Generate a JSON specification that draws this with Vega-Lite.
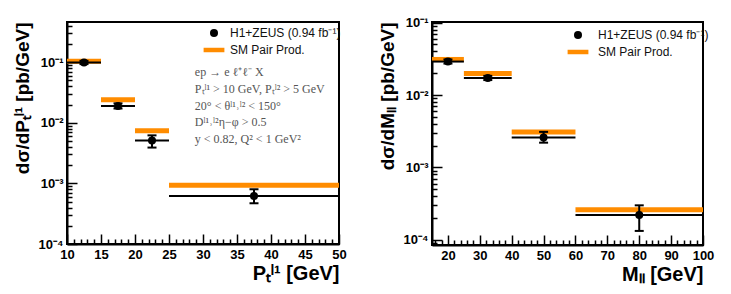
{
  "$schema": "https://vega.github.io/schema/vega-lite/v6.json",
  "padding": {"left": 12, "top": 15, "right": 5, "bottom": 5},
  "spacing": 93,
  "bounds": "flush",
  "background": "white",
  "datasets": {
    "ptData": [
      {"lo": 10, "hi": 15, "x": 12.5, "y": 0.099, "ylo": 0.093, "yhi": 0.105, "series": "H1+ZEUS (0.94 fb⁻¹)"},
      {"lo": 15, "hi": 20, "x": 17.5, "y": 0.019, "ylo": 0.0172, "yhi": 0.0209, "series": "H1+ZEUS (0.94 fb⁻¹)"},
      {"lo": 20, "hi": 25, "x": 22.5, "y": 0.0051, "ylo": 0.0039, "yhi": 0.0062, "series": "H1+ZEUS (0.94 fb⁻¹)"},
      {"lo": 25, "hi": 50, "x": 37.5, "y": 0.00062, "ylo": 0.00047, "yhi": 0.0008, "series": "H1+ZEUS (0.94 fb⁻¹)"}
    ],
    "ptSM": [
      {"lo": 10, "hi": 15, "sm": 0.104, "series": "SM Pair Prod."},
      {"lo": 15, "hi": 20, "sm": 0.024, "series": "SM Pair Prod."},
      {"lo": 20, "hi": 25, "sm": 0.0074, "series": "SM Pair Prod."},
      {"lo": 25, "hi": 50, "sm": 0.00093, "series": "SM Pair Prod."}
    ],
    "mData": [
      {"lo": 15, "hi": 25, "x": 20, "y": 0.029, "ylo": 0.0272, "yhi": 0.031, "series": "H1+ZEUS (0.94 fb⁻¹)"},
      {"lo": 25, "hi": 40, "x": 32.5, "y": 0.0172, "ylo": 0.0161, "yhi": 0.0184, "series": "H1+ZEUS (0.94 fb⁻¹)"},
      {"lo": 40, "hi": 60, "x": 50, "y": 0.0026, "ylo": 0.0022, "yhi": 0.0031, "series": "H1+ZEUS (0.94 fb⁻¹)"},
      {"lo": 60, "hi": 100, "x": 80, "y": 0.00022, "ylo": 0.000133, "yhi": 0.0003, "series": "H1+ZEUS (0.94 fb⁻¹)"}
    ],
    "mSM": [
      {"lo": 15, "hi": 25, "sm": 0.031, "series": "SM Pair Prod."},
      {"lo": 25, "hi": 40, "sm": 0.0198, "series": "SM Pair Prod."},
      {"lo": 40, "hi": 60, "sm": 0.0031, "series": "SM Pair Prod."},
      {"lo": 60, "hi": 100, "sm": 0.00026, "series": "SM Pair Prod."}
    ],
    "notes": [
      {"lines": ["ep → e ℓ⁺ℓ⁻ X", "Pₜˡ¹ > 10 GeV, Pₜˡ² > 5 GeV", "20° < θˡ¹˒ˡ² < 150°", "Dˡ¹˒ˡ²η−φ > 0.5", "y < 0.82, Q² < 1 GeV²"]}
    ]
  },
  "resolve": {
    "scale": {"color": "independent", "shape": "independent", "x": "independent", "y": "independent"},
    "legend": {"color": "independent", "shape": "independent"}
  },
  "hconcat": [
    {
      "width": 272,
      "height": 222,
      "layer": [
        {
          "data": {"name": "ptSM"},
          "mark": {"type": "rule", "strokeWidth": 5, "color": "#ff8c00"},
          "encoding": {
            "x": {"field": "lo", "type": "quantitative", "scale": {"domain": [10, 50], "nice": false, "zero": false},
              "axis": {"title": "Pₜˡ¹ [GeV]", "titleAnchor": "end", "titleAlign": "right", "titleFontSize": 20, "titlePadding": 2, "grid": true, "labelOverlap": false, "values": [10,11,12,13,14,15,16,17,18,19,20,21,22,23,24,25,26,27,28,29,30,31,32,33,34,35,36,37,38,39,40,41,42,43,44,45,46,47,48,49,50], "labelExpr": "datum.value % 5 == 0 ? datum.label : ''", "gridDash": {"condition": {"test": "datum.value % 5 == 0", "value": [0, 212, 10, 2000]}, "value": [0, 217, 5, 2000]}}},
            "x2": {"field": "hi"},
            "y": {"field": "sm", "type": "quantitative", "scale": {"type": "log", "domain": [0.0001, 0.46], "nice": false},
              "axis": {"title": "dσ/dPₜˡ¹ [pb/GeV]", "titleAnchor": "end", "titleFontSize": 19, "titlePadding": 6, "grid": true, "labelOverlap": false, "values": [0.0001,0.0002,0.0003,0.0004,0.0005,0.0006,0.0007,0.0008,0.0009,0.001,0.002,0.003,0.004,0.005,0.006,0.007,0.008,0.009,0.01,0.02,0.03,0.04,0.05,0.06,0.07,0.08,0.09,0.1,0.2,0.3,0.4], "labelExpr": "abs(datum.value-0.1)<1e-9 ? '10⁻¹' : abs(datum.value-0.01)<1e-10 ? '10⁻²' : abs(datum.value-0.001)<1e-11 ? '10⁻³' : abs(datum.value-0.0001)<1e-12 ? '10⁻⁴' : ''", "gridDash": {"condition": {"test": "abs(log(datum.value)/LN10 - round(log(datum.value)/LN10)) < 0.001", "value": [10, 2000]}, "value": [5, 2000]}}}
          }
        },
        {
          "data": {"name": "ptData"},
          "mark": {"type": "rule", "strokeWidth": 2, "color": "black"},
          "encoding": {
            "x": {"field": "lo", "type": "quantitative",
              "axis": {"title": "Pₜˡ¹ [GeV]", "titleAnchor": "end", "titleAlign": "right", "titleFontSize": 20, "titlePadding": 2, "grid": true, "labelOverlap": false, "values": [10,11,12,13,14,15,16,17,18,19,20,21,22,23,24,25,26,27,28,29,30,31,32,33,34,35,36,37,38,39,40,41,42,43,44,45,46,47,48,49,50], "labelExpr": "datum.value % 5 == 0 ? datum.label : ''", "gridDash": {"condition": {"test": "datum.value % 5 == 0", "value": [0, 212, 10, 2000]}, "value": [0, 217, 5, 2000]}}},
            "x2": {"field": "hi"},
            "y": {"field": "y", "type": "quantitative",
              "axis": {"title": "dσ/dPₜˡ¹ [pb/GeV]", "titleAnchor": "end", "titleFontSize": 19, "titlePadding": 6, "grid": true, "labelOverlap": false, "values": [0.0001,0.0002,0.0003,0.0004,0.0005,0.0006,0.0007,0.0008,0.0009,0.001,0.002,0.003,0.004,0.005,0.006,0.007,0.008,0.009,0.01,0.02,0.03,0.04,0.05,0.06,0.07,0.08,0.09,0.1,0.2,0.3,0.4], "labelExpr": "abs(datum.value-0.1)<1e-9 ? '10⁻¹' : abs(datum.value-0.01)<1e-10 ? '10⁻²' : abs(datum.value-0.001)<1e-11 ? '10⁻³' : abs(datum.value-0.0001)<1e-12 ? '10⁻⁴' : ''", "gridDash": {"condition": {"test": "abs(log(datum.value)/LN10 - round(log(datum.value)/LN10)) < 0.001", "value": [10, 2000]}, "value": [5, 2000]}}}
          }
        },
        {
          "data": {"name": "ptData"},
          "mark": {"type": "rule", "strokeWidth": 2, "color": "black"},
          "encoding": {
            "x": {"field": "x", "type": "quantitative",
              "axis": {"title": "Pₜˡ¹ [GeV]", "titleAnchor": "end", "titleAlign": "right", "titleFontSize": 20, "titlePadding": 2, "grid": true, "labelOverlap": false, "values": [10,11,12,13,14,15,16,17,18,19,20,21,22,23,24,25,26,27,28,29,30,31,32,33,34,35,36,37,38,39,40,41,42,43,44,45,46,47,48,49,50], "labelExpr": "datum.value % 5 == 0 ? datum.label : ''", "gridDash": {"condition": {"test": "datum.value % 5 == 0", "value": [0, 212, 10, 2000]}, "value": [0, 217, 5, 2000]}}},
            "y": {"field": "ylo", "type": "quantitative",
              "axis": {"title": "dσ/dPₜˡ¹ [pb/GeV]", "titleAnchor": "end", "titleFontSize": 19, "titlePadding": 6, "grid": true, "labelOverlap": false, "values": [0.0001,0.0002,0.0003,0.0004,0.0005,0.0006,0.0007,0.0008,0.0009,0.001,0.002,0.003,0.004,0.005,0.006,0.007,0.008,0.009,0.01,0.02,0.03,0.04,0.05,0.06,0.07,0.08,0.09,0.1,0.2,0.3,0.4], "labelExpr": "abs(datum.value-0.1)<1e-9 ? '10⁻¹' : abs(datum.value-0.01)<1e-10 ? '10⁻²' : abs(datum.value-0.001)<1e-11 ? '10⁻³' : abs(datum.value-0.0001)<1e-12 ? '10⁻⁴' : ''", "gridDash": {"condition": {"test": "abs(log(datum.value)/LN10 - round(log(datum.value)/LN10)) < 0.001", "value": [10, 2000]}, "value": [5, 2000]}}},
            "y2": {"field": "yhi"}
          }
        },
        {
          "data": {"name": "ptData"},
          "mark": {"type": "tick", "orient": "horizontal", "size": 9, "thickness": 2, "color": "black", "opacity": 1},
          "encoding": {
            "x": {"field": "x", "type": "quantitative",
              "axis": {"title": "Pₜˡ¹ [GeV]", "titleAnchor": "end", "titleAlign": "right", "titleFontSize": 20, "titlePadding": 2, "grid": true, "labelOverlap": false, "values": [10,11,12,13,14,15,16,17,18,19,20,21,22,23,24,25,26,27,28,29,30,31,32,33,34,35,36,37,38,39,40,41,42,43,44,45,46,47,48,49,50], "labelExpr": "datum.value % 5 == 0 ? datum.label : ''", "gridDash": {"condition": {"test": "datum.value % 5 == 0", "value": [0, 212, 10, 2000]}, "value": [0, 217, 5, 2000]}}},
            "y": {"field": "ylo", "type": "quantitative",
              "axis": {"title": "dσ/dPₜˡ¹ [pb/GeV]", "titleAnchor": "end", "titleFontSize": 19, "titlePadding": 6, "grid": true, "labelOverlap": false, "values": [0.0001,0.0002,0.0003,0.0004,0.0005,0.0006,0.0007,0.0008,0.0009,0.001,0.002,0.003,0.004,0.005,0.006,0.007,0.008,0.009,0.01,0.02,0.03,0.04,0.05,0.06,0.07,0.08,0.09,0.1,0.2,0.3,0.4], "labelExpr": "abs(datum.value-0.1)<1e-9 ? '10⁻¹' : abs(datum.value-0.01)<1e-10 ? '10⁻²' : abs(datum.value-0.001)<1e-11 ? '10⁻³' : abs(datum.value-0.0001)<1e-12 ? '10⁻⁴' : ''", "gridDash": {"condition": {"test": "abs(log(datum.value)/LN10 - round(log(datum.value)/LN10)) < 0.001", "value": [10, 2000]}, "value": [5, 2000]}}}
          }
        },
        {
          "data": {"name": "ptData"},
          "mark": {"type": "tick", "orient": "horizontal", "size": 9, "thickness": 2, "color": "black", "opacity": 1},
          "encoding": {
            "x": {"field": "x", "type": "quantitative",
              "axis": {"title": "Pₜˡ¹ [GeV]", "titleAnchor": "end", "titleAlign": "right", "titleFontSize": 20, "titlePadding": 2, "grid": true, "labelOverlap": false, "values": [10,11,12,13,14,15,16,17,18,19,20,21,22,23,24,25,26,27,28,29,30,31,32,33,34,35,36,37,38,39,40,41,42,43,44,45,46,47,48,49,50], "labelExpr": "datum.value % 5 == 0 ? datum.label : ''", "gridDash": {"condition": {"test": "datum.value % 5 == 0", "value": [0, 212, 10, 2000]}, "value": [0, 217, 5, 2000]}}},
            "y": {"field": "yhi", "type": "quantitative",
              "axis": {"title": "dσ/dPₜˡ¹ [pb/GeV]", "titleAnchor": "end", "titleFontSize": 19, "titlePadding": 6, "grid": true, "labelOverlap": false, "values": [0.0001,0.0002,0.0003,0.0004,0.0005,0.0006,0.0007,0.0008,0.0009,0.001,0.002,0.003,0.004,0.005,0.006,0.007,0.008,0.009,0.01,0.02,0.03,0.04,0.05,0.06,0.07,0.08,0.09,0.1,0.2,0.3,0.4], "labelExpr": "abs(datum.value-0.1)<1e-9 ? '10⁻¹' : abs(datum.value-0.01)<1e-10 ? '10⁻²' : abs(datum.value-0.001)<1e-11 ? '10⁻³' : abs(datum.value-0.0001)<1e-12 ? '10⁻⁴' : ''", "gridDash": {"condition": {"test": "abs(log(datum.value)/LN10 - round(log(datum.value)/LN10)) < 0.001", "value": [10, 2000]}, "value": [5, 2000]}}}
          }
        },
        {
          "data": {"name": "ptData"},
          "mark": {"type": "point", "filled": true, "size": 64, "opacity": 1},
          "encoding": {
            "x": {"field": "x", "type": "quantitative",
              "axis": {"title": "Pₜˡ¹ [GeV]", "titleAnchor": "end", "titleAlign": "right", "titleFontSize": 20, "titlePadding": 2, "grid": true, "labelOverlap": false, "values": [10,11,12,13,14,15,16,17,18,19,20,21,22,23,24,25,26,27,28,29,30,31,32,33,34,35,36,37,38,39,40,41,42,43,44,45,46,47,48,49,50], "labelExpr": "datum.value % 5 == 0 ? datum.label : ''", "gridDash": {"condition": {"test": "datum.value % 5 == 0", "value": [0, 212, 10, 2000]}, "value": [0, 217, 5, 2000]}}},
            "y": {"field": "y", "type": "quantitative",
              "axis": {"title": "dσ/dPₜˡ¹ [pb/GeV]", "titleAnchor": "end", "titleFontSize": 19, "titlePadding": 6, "grid": true, "labelOverlap": false, "values": [0.0001,0.0002,0.0003,0.0004,0.0005,0.0006,0.0007,0.0008,0.0009,0.001,0.002,0.003,0.004,0.005,0.006,0.007,0.008,0.009,0.01,0.02,0.03,0.04,0.05,0.06,0.07,0.08,0.09,0.1,0.2,0.3,0.4], "labelExpr": "abs(datum.value-0.1)<1e-9 ? '10⁻¹' : abs(datum.value-0.01)<1e-10 ? '10⁻²' : abs(datum.value-0.001)<1e-11 ? '10⁻³' : abs(datum.value-0.0001)<1e-12 ? '10⁻⁴' : ''", "gridDash": {"condition": {"test": "abs(log(datum.value)/LN10 - round(log(datum.value)/LN10)) < 0.001", "value": [10, 2000]}, "value": [5, 2000]}}},
            "color": {"field": "series", "type": "nominal",
              "scale": {"domain": ["H1+ZEUS (0.94 fb⁻¹)", "SM Pair Prod."], "range": ["black", "#ff8c00"]},
              "legend": {"orient": "none", "legendX": 141, "legendY": 5, "title": null, "labelOffset": 10}},
            "shape": {"field": "series", "type": "nominal",
              "scale": {"domain": ["H1+ZEUS (0.94 fb⁻¹)", "SM Pair Prod."], "range": ["circle", "M-2.6,-0.56L2.6,-0.56L2.6,0.56L-2.6,0.56Z"]},
              "legend": {"orient": "none", "legendX": 141, "legendY": 5, "title": null, "labelOffset": 10}}
          }
        },
        {
          "data": {"name": "notes"},
          "mark": {"type": "text", "align": "left", "baseline": "alphabetic", "font": "Liberation Serif", "fontSize": 12, "color": "#555555", "lineHeight": 16.7},
          "encoding": {
            "x": {"datum": 28.8, "type": "quantitative",
              "axis": {"title": "Pₜˡ¹ [GeV]", "titleAnchor": "end", "titleAlign": "right", "titleFontSize": 20, "titlePadding": 2, "grid": true, "labelOverlap": false, "values": [10,11,12,13,14,15,16,17,18,19,20,21,22,23,24,25,26,27,28,29,30,31,32,33,34,35,36,37,38,39,40,41,42,43,44,45,46,47,48,49,50], "labelExpr": "datum.value % 5 == 0 ? datum.label : ''", "gridDash": {"condition": {"test": "datum.value % 5 == 0", "value": [0, 212, 10, 2000]}, "value": [0, 217, 5, 2000]}}},
            "y": {"datum": 0.0588, "type": "quantitative",
              "axis": {"title": "dσ/dPₜˡ¹ [pb/GeV]", "titleAnchor": "end", "titleFontSize": 19, "titlePadding": 6, "grid": true, "labelOverlap": false, "values": [0.0001,0.0002,0.0003,0.0004,0.0005,0.0006,0.0007,0.0008,0.0009,0.001,0.002,0.003,0.004,0.005,0.006,0.007,0.008,0.009,0.01,0.02,0.03,0.04,0.05,0.06,0.07,0.08,0.09,0.1,0.2,0.3,0.4], "labelExpr": "abs(datum.value-0.1)<1e-9 ? '10⁻¹' : abs(datum.value-0.01)<1e-10 ? '10⁻²' : abs(datum.value-0.001)<1e-11 ? '10⁻³' : abs(datum.value-0.0001)<1e-12 ? '10⁻⁴' : ''", "gridDash": {"condition": {"test": "abs(log(datum.value)/LN10 - round(log(datum.value)/LN10)) < 0.001", "value": [10, 2000]}, "value": [5, 2000]}}},
            "text": {"field": "lines"}
          }
        }
      ]
    },
    {
      "width": 271,
      "height": 223,
      "layer": [
        {
          "data": {"name": "mSM"},
          "mark": {"type": "rule", "strokeWidth": 5, "color": "#ff8c00"},
          "encoding": {
            "x": {"field": "lo", "type": "quantitative", "scale": {"domain": [15, 100], "nice": false, "zero": false},
              "axis": {"title": "Mₗₗ [GeV]", "titleAnchor": "end", "titleAlign": "right", "titleFontSize": 20, "titlePadding": 2, "grid": true, "labelOverlap": false, "values": [16,18,20,22,24,26,28,30,32,34,36,38,40,42,44,46,48,50,52,54,56,58,60,62,64,66,68,70,72,74,76,78,80,82,84,86,88,90,92,94,96,98,100], "labelExpr": "datum.value % 10 == 0 ? datum.label : ''", "gridDash": {"condition": {"test": "datum.value % 10 == 0", "value": [0, 213, 10, 2000]}, "value": [0, 218, 5, 2000]}}},
            "x2": {"field": "hi"},
            "y": {"field": "sm", "type": "quantitative", "scale": {"type": "log", "domain": [0.000085, 0.102], "nice": false},
              "axis": {"title": "dσ/dMₗₗ [pb/GeV]", "titleAnchor": "end", "titleFontSize": 19, "titlePadding": 6, "grid": true, "labelOverlap": false, "values": [0.00009,0.0001,0.0002,0.0003,0.0004,0.0005,0.0006,0.0007,0.0008,0.0009,0.001,0.002,0.003,0.004,0.005,0.006,0.007,0.008,0.009,0.01,0.02,0.03,0.04,0.05,0.06,0.07,0.08,0.09,0.1], "labelExpr": "abs(datum.value-0.1)<1e-9 ? '10⁻¹' : abs(datum.value-0.01)<1e-10 ? '10⁻²' : abs(datum.value-0.001)<1e-11 ? '10⁻³' : abs(datum.value-0.0001)<1e-12 ? '10⁻⁴' : ''", "gridDash": {"condition": {"test": "abs(log(datum.value)/LN10 - round(log(datum.value)/LN10)) < 0.001", "value": [10, 2000]}, "value": [5, 2000]}}}
          }
        },
        {
          "data": {"name": "mData"},
          "mark": {"type": "rule", "strokeWidth": 2, "color": "black"},
          "encoding": {
            "x": {"field": "lo", "type": "quantitative",
              "axis": {"title": "Mₗₗ [GeV]", "titleAnchor": "end", "titleAlign": "right", "titleFontSize": 20, "titlePadding": 2, "grid": true, "labelOverlap": false, "values": [16,18,20,22,24,26,28,30,32,34,36,38,40,42,44,46,48,50,52,54,56,58,60,62,64,66,68,70,72,74,76,78,80,82,84,86,88,90,92,94,96,98,100], "labelExpr": "datum.value % 10 == 0 ? datum.label : ''", "gridDash": {"condition": {"test": "datum.value % 10 == 0", "value": [0, 213, 10, 2000]}, "value": [0, 218, 5, 2000]}}},
            "x2": {"field": "hi"},
            "y": {"field": "y", "type": "quantitative",
              "axis": {"title": "dσ/dMₗₗ [pb/GeV]", "titleAnchor": "end", "titleFontSize": 19, "titlePadding": 6, "grid": true, "labelOverlap": false, "values": [0.00009,0.0001,0.0002,0.0003,0.0004,0.0005,0.0006,0.0007,0.0008,0.0009,0.001,0.002,0.003,0.004,0.005,0.006,0.007,0.008,0.009,0.01,0.02,0.03,0.04,0.05,0.06,0.07,0.08,0.09,0.1], "labelExpr": "abs(datum.value-0.1)<1e-9 ? '10⁻¹' : abs(datum.value-0.01)<1e-10 ? '10⁻²' : abs(datum.value-0.001)<1e-11 ? '10⁻³' : abs(datum.value-0.0001)<1e-12 ? '10⁻⁴' : ''", "gridDash": {"condition": {"test": "abs(log(datum.value)/LN10 - round(log(datum.value)/LN10)) < 0.001", "value": [10, 2000]}, "value": [5, 2000]}}}
          }
        },
        {
          "data": {"name": "mData"},
          "mark": {"type": "rule", "strokeWidth": 2, "color": "black"},
          "encoding": {
            "x": {"field": "x", "type": "quantitative",
              "axis": {"title": "Mₗₗ [GeV]", "titleAnchor": "end", "titleAlign": "right", "titleFontSize": 20, "titlePadding": 2, "grid": true, "labelOverlap": false, "values": [16,18,20,22,24,26,28,30,32,34,36,38,40,42,44,46,48,50,52,54,56,58,60,62,64,66,68,70,72,74,76,78,80,82,84,86,88,90,92,94,96,98,100], "labelExpr": "datum.value % 10 == 0 ? datum.label : ''", "gridDash": {"condition": {"test": "datum.value % 10 == 0", "value": [0, 213, 10, 2000]}, "value": [0, 218, 5, 2000]}}},
            "y": {"field": "ylo", "type": "quantitative",
              "axis": {"title": "dσ/dMₗₗ [pb/GeV]", "titleAnchor": "end", "titleFontSize": 19, "titlePadding": 6, "grid": true, "labelOverlap": false, "values": [0.00009,0.0001,0.0002,0.0003,0.0004,0.0005,0.0006,0.0007,0.0008,0.0009,0.001,0.002,0.003,0.004,0.005,0.006,0.007,0.008,0.009,0.01,0.02,0.03,0.04,0.05,0.06,0.07,0.08,0.09,0.1], "labelExpr": "abs(datum.value-0.1)<1e-9 ? '10⁻¹' : abs(datum.value-0.01)<1e-10 ? '10⁻²' : abs(datum.value-0.001)<1e-11 ? '10⁻³' : abs(datum.value-0.0001)<1e-12 ? '10⁻⁴' : ''", "gridDash": {"condition": {"test": "abs(log(datum.value)/LN10 - round(log(datum.value)/LN10)) < 0.001", "value": [10, 2000]}, "value": [5, 2000]}}},
            "y2": {"field": "yhi"}
          }
        },
        {
          "data": {"name": "mData"},
          "mark": {"type": "tick", "orient": "horizontal", "size": 9, "thickness": 2, "color": "black", "opacity": 1},
          "encoding": {
            "x": {"field": "x", "type": "quantitative",
              "axis": {"title": "Mₗₗ [GeV]", "titleAnchor": "end", "titleAlign": "right", "titleFontSize": 20, "titlePadding": 2, "grid": true, "labelOverlap": false, "values": [16,18,20,22,24,26,28,30,32,34,36,38,40,42,44,46,48,50,52,54,56,58,60,62,64,66,68,70,72,74,76,78,80,82,84,86,88,90,92,94,96,98,100], "labelExpr": "datum.value % 10 == 0 ? datum.label : ''", "gridDash": {"condition": {"test": "datum.value % 10 == 0", "value": [0, 213, 10, 2000]}, "value": [0, 218, 5, 2000]}}},
            "y": {"field": "ylo", "type": "quantitative",
              "axis": {"title": "dσ/dMₗₗ [pb/GeV]", "titleAnchor": "end", "titleFontSize": 19, "titlePadding": 6, "grid": true, "labelOverlap": false, "values": [0.00009,0.0001,0.0002,0.0003,0.0004,0.0005,0.0006,0.0007,0.0008,0.0009,0.001,0.002,0.003,0.004,0.005,0.006,0.007,0.008,0.009,0.01,0.02,0.03,0.04,0.05,0.06,0.07,0.08,0.09,0.1], "labelExpr": "abs(datum.value-0.1)<1e-9 ? '10⁻¹' : abs(datum.value-0.01)<1e-10 ? '10⁻²' : abs(datum.value-0.001)<1e-11 ? '10⁻³' : abs(datum.value-0.0001)<1e-12 ? '10⁻⁴' : ''", "gridDash": {"condition": {"test": "abs(log(datum.value)/LN10 - round(log(datum.value)/LN10)) < 0.001", "value": [10, 2000]}, "value": [5, 2000]}}}
          }
        },
        {
          "data": {"name": "mData"},
          "mark": {"type": "tick", "orient": "horizontal", "size": 9, "thickness": 2, "color": "black", "opacity": 1},
          "encoding": {
            "x": {"field": "x", "type": "quantitative",
              "axis": {"title": "Mₗₗ [GeV]", "titleAnchor": "end", "titleAlign": "right", "titleFontSize": 20, "titlePadding": 2, "grid": true, "labelOverlap": false, "values": [16,18,20,22,24,26,28,30,32,34,36,38,40,42,44,46,48,50,52,54,56,58,60,62,64,66,68,70,72,74,76,78,80,82,84,86,88,90,92,94,96,98,100], "labelExpr": "datum.value % 10 == 0 ? datum.label : ''", "gridDash": {"condition": {"test": "datum.value % 10 == 0", "value": [0, 213, 10, 2000]}, "value": [0, 218, 5, 2000]}}},
            "y": {"field": "yhi", "type": "quantitative",
              "axis": {"title": "dσ/dMₗₗ [pb/GeV]", "titleAnchor": "end", "titleFontSize": 19, "titlePadding": 6, "grid": true, "labelOverlap": false, "values": [0.00009,0.0001,0.0002,0.0003,0.0004,0.0005,0.0006,0.0007,0.0008,0.0009,0.001,0.002,0.003,0.004,0.005,0.006,0.007,0.008,0.009,0.01,0.02,0.03,0.04,0.05,0.06,0.07,0.08,0.09,0.1], "labelExpr": "abs(datum.value-0.1)<1e-9 ? '10⁻¹' : abs(datum.value-0.01)<1e-10 ? '10⁻²' : abs(datum.value-0.001)<1e-11 ? '10⁻³' : abs(datum.value-0.0001)<1e-12 ? '10⁻⁴' : ''", "gridDash": {"condition": {"test": "abs(log(datum.value)/LN10 - round(log(datum.value)/LN10)) < 0.001", "value": [10, 2000]}, "value": [5, 2000]}}}
          }
        },
        {
          "data": {"name": "mData"},
          "mark": {"type": "point", "filled": true, "size": 64, "opacity": 1},
          "encoding": {
            "x": {"field": "x", "type": "quantitative",
              "axis": {"title": "Mₗₗ [GeV]", "titleAnchor": "end", "titleAlign": "right", "titleFontSize": 20, "titlePadding": 2, "grid": true, "labelOverlap": false, "values": [16,18,20,22,24,26,28,30,32,34,36,38,40,42,44,46,48,50,52,54,56,58,60,62,64,66,68,70,72,74,76,78,80,82,84,86,88,90,92,94,96,98,100], "labelExpr": "datum.value % 10 == 0 ? datum.label : ''", "gridDash": {"condition": {"test": "datum.value % 10 == 0", "value": [0, 213, 10, 2000]}, "value": [0, 218, 5, 2000]}}},
            "y": {"field": "y", "type": "quantitative",
              "axis": {"title": "dσ/dMₗₗ [pb/GeV]", "titleAnchor": "end", "titleFontSize": 19, "titlePadding": 6, "grid": true, "labelOverlap": false, "values": [0.00009,0.0001,0.0002,0.0003,0.0004,0.0005,0.0006,0.0007,0.0008,0.0009,0.001,0.002,0.003,0.004,0.005,0.006,0.007,0.008,0.009,0.01,0.02,0.03,0.04,0.05,0.06,0.07,0.08,0.09,0.1], "labelExpr": "abs(datum.value-0.1)<1e-9 ? '10⁻¹' : abs(datum.value-0.01)<1e-10 ? '10⁻²' : abs(datum.value-0.001)<1e-11 ? '10⁻³' : abs(datum.value-0.0001)<1e-12 ? '10⁻⁴' : ''", "gridDash": {"condition": {"test": "abs(log(datum.value)/LN10 - round(log(datum.value)/LN10)) < 0.001", "value": [10, 2000]}, "value": [5, 2000]}}},
            "color": {"field": "series", "type": "nominal",
              "scale": {"domain": ["H1+ZEUS (0.94 fb⁻¹)", "SM Pair Prod."], "range": ["black", "#ff8c00"]},
              "legend": {"orient": "none", "legendX": 140, "legendY": 7, "title": null, "labelOffset": 14}},
            "shape": {"field": "series", "type": "nominal",
              "scale": {"domain": ["H1+ZEUS (0.94 fb⁻¹)", "SM Pair Prod."], "range": ["circle", "M-2.6,-0.56L2.6,-0.56L2.6,0.56L-2.6,0.56Z"]},
              "legend": {"orient": "none", "legendX": 140, "legendY": 7, "title": null, "labelOffset": 14}}
          }
        }
      ]
    }
  ],
  "config": {
    "view": {"stroke": "black", "strokeWidth": 2},
    "axis": {
      "grid": true, "gridColor": "black", "gridWidth": 1.5, "gridOpacity": 1, "ticks": false,
      "domainColor": "black", "domainWidth": 2,
      "labelFont": "Liberation Sans", "labelFontWeight": "bold", "labelFontSize": 13, "labelColor": "black",
      "labelFlush": false, "labelPadding": 4,
      "titleFont": "Liberation Sans", "titleFontWeight": "bold", "titleColor": "black"
    },
    "legend": {
      "labelFont": "Liberation Sans", "labelFontSize": 12, "labelColor": "#111111",
      "symbolSize": 64, "symbolStrokeWidth": 0, "symbolOpacity": 1, "rowPadding": 5, "padding": 0, "labelLimit": 300
    }
  }
}
